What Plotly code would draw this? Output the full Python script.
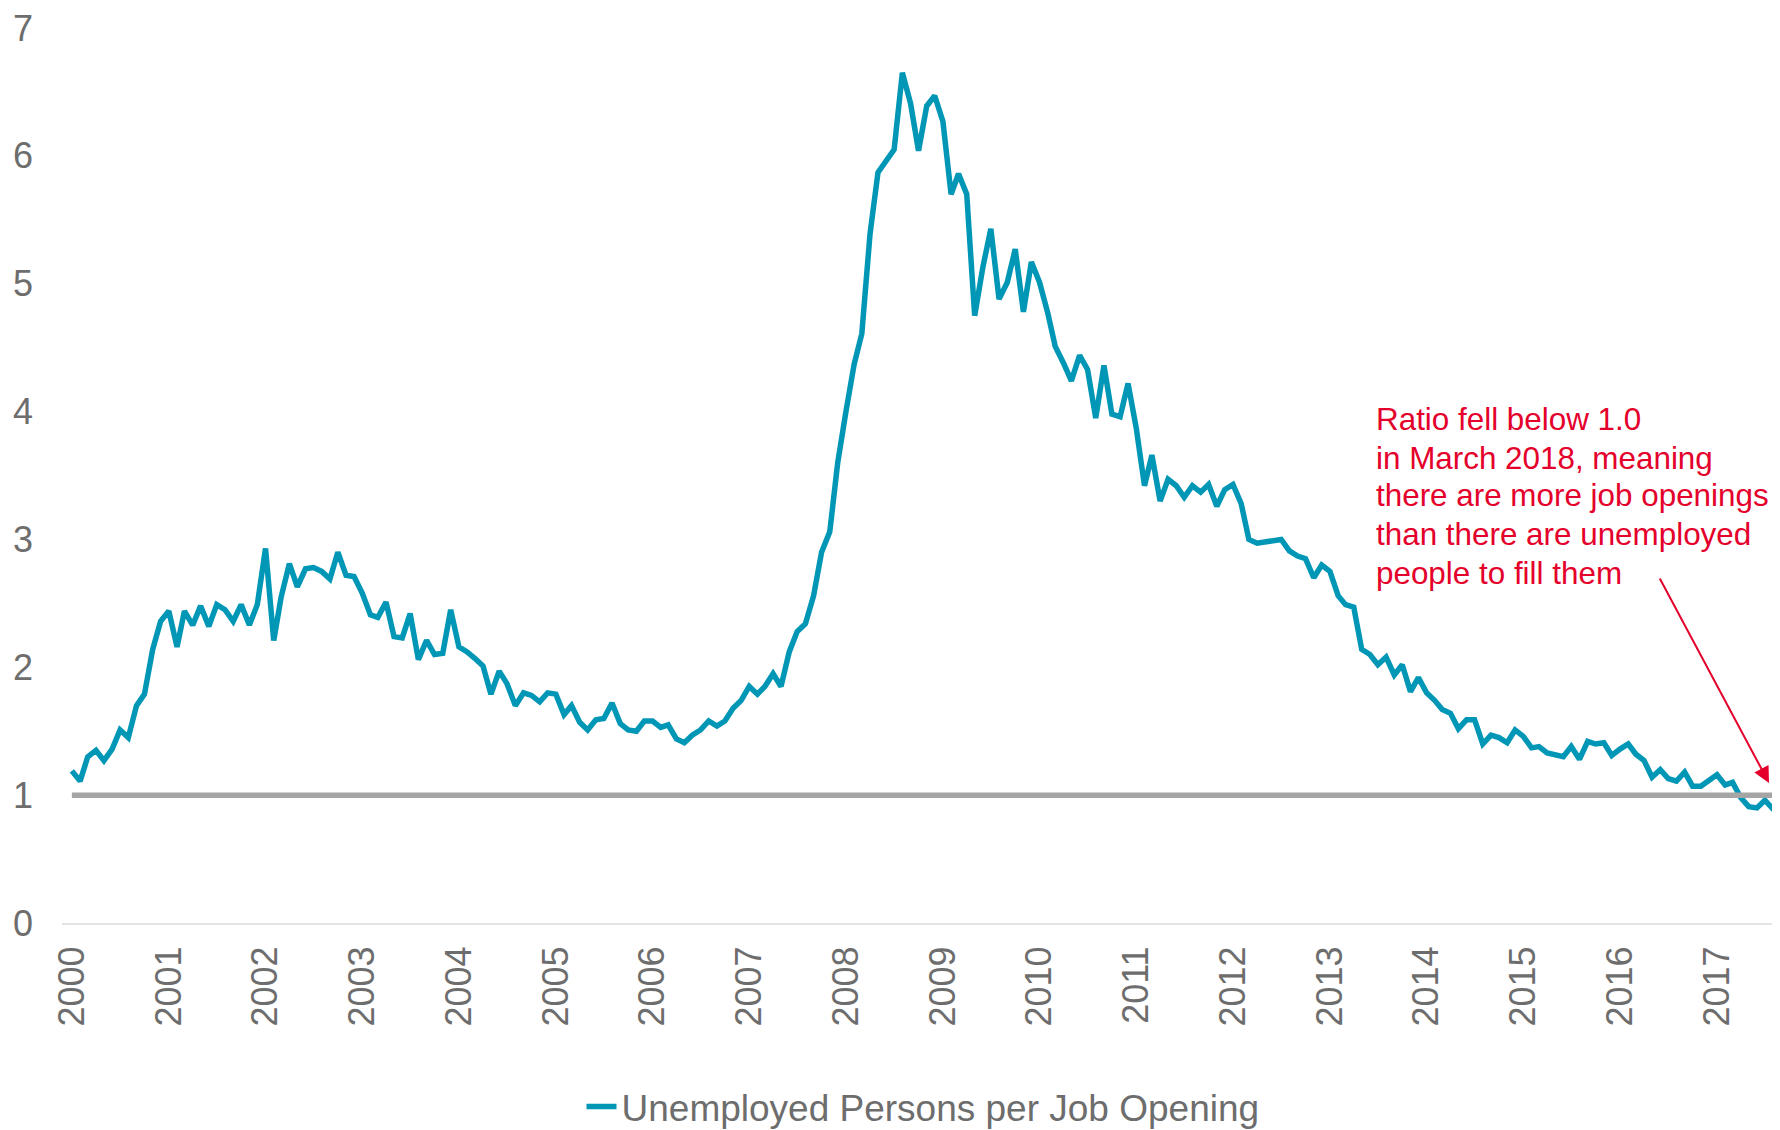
import pandas as pd
import plotly.graph_objects as go

# ---- data ----
start_month = "2000-01-01"
series_name = "Unemployed Persons per Job Opening"
ratio = [
    1.19, 1.11, 1.30, 1.35, 1.27, 1.36, 1.51, 1.45, 1.70, 1.79, 2.14, 2.36,
    2.44, 2.16, 2.44, 2.33, 2.48, 2.32, 2.49, 2.45, 2.36, 2.49, 2.33, 2.49,
    2.93, 2.21, 2.55, 2.81, 2.63, 2.77, 2.78, 2.75, 2.69, 2.90, 2.72, 2.71,
    2.58, 2.41, 2.39, 2.51, 2.24, 2.23, 2.42, 2.06, 2.21, 2.10, 2.11, 2.45,
    2.16, 2.12, 2.07, 2.01, 1.79, 1.97, 1.87, 1.70, 1.80, 1.78, 1.73, 1.80,
    1.79, 1.63, 1.70, 1.57, 1.51, 1.59, 1.60, 1.72, 1.56, 1.51, 1.50, 1.58,
    1.58, 1.53, 1.55, 1.44, 1.41, 1.47, 1.51, 1.58, 1.54, 1.58, 1.68, 1.74,
    1.85, 1.79, 1.85, 1.95, 1.85, 2.12, 2.28, 2.34, 2.56, 2.90, 3.06, 3.60,
    4.00, 4.37, 4.61, 5.39, 5.87, 5.96, 6.05, 6.65, 6.41, 6.04, 6.39, 6.47,
    6.27, 5.70, 5.86, 5.70, 4.75, 5.13, 5.43, 4.88, 5.01, 5.27, 4.78, 5.17,
    5.01, 4.77, 4.51, 4.38, 4.24, 4.44, 4.33, 3.95, 4.36, 3.98, 3.96, 4.22,
    3.87, 3.42, 3.66, 3.30, 3.47, 3.42, 3.33, 3.42, 3.37, 3.43, 3.26, 3.39,
    3.43, 3.28, 3.00, 2.97, 2.98, 2.99, 3.00, 2.91, 2.87, 2.85, 2.70, 2.80,
    2.75, 2.56, 2.49, 2.47, 2.14, 2.10, 2.02, 2.08, 1.94, 2.02, 1.81, 1.92,
    1.80, 1.74, 1.67, 1.64, 1.52, 1.59, 1.59, 1.40, 1.47, 1.45, 1.41, 1.51,
    1.46, 1.37, 1.38, 1.33, 1.32, 1.30, 1.38, 1.28, 1.42, 1.40, 1.41, 1.31,
    1.36, 1.40, 1.32, 1.27, 1.14, 1.20, 1.13, 1.11, 1.18, 1.07, 1.07, 1.11,
    1.16, 1.08, 1.10, 0.98, 0.91, 0.90, 0.96, 0.89, 0.87,
]
threshold = 1.0
year_labels = [str(y) for y in range(2000, 2018)]
y_ticks = [0, 1, 2, 3, 4, 5, 6, 7]
note_lines = [
    "Ratio fell below 1.0",
    "in March 2018, meaning",
    "there are more job openings",
    "than there are unemployed",
    "people to fill them",
]

months = pd.date_range(start_month, periods=len(ratio), freq="MS")
year_ticks = [f"{y}-01-01" for y in year_labels]

FONT = "Liberation Sans, Arial, sans-serif"
GRAY_TXT = "#6D6D6D"
TEAL = "#0096B5"
RED = "#E4002B"

fig = go.Figure()
fig.add_trace(go.Scatter(
    x=months, y=ratio, mode="lines", name=series_name,
    line=dict(color=TEAL, width=5.5), showlegend=True,
))
fig.add_trace(go.Scatter(
    x=months, y=[threshold] * len(months), mode="lines", name="1.0",
    line=dict(color="#A5A5A5", width=5.5), showlegend=False,
))

# the page body adds an 8px margin; target coordinates are in window pixels
OFF = 8
WIN_W, WIN_H = 1780, 1130
W, H = WIN_W - OFF, WIN_H - OFF
left, right, top, bottom = 62 - OFF, 1780 - OFF, 22 - OFF, 923 - OFF

fig.update_layout(
    width=W, height=H,
    margin=dict(l=left, r=W - right, t=top, b=H - bottom),
    paper_bgcolor="white", plot_bgcolor="white",
    font=dict(family=FONT, color=GRAY_TXT),
    legend=dict(
        orientation="h", xref="container", yref="container",
        x=(923 - OFF) / W, xanchor="center", y=1 - (1107 - OFF) / H, yanchor="middle",
        font=dict(size=37, color=GRAY_TXT, family=FONT),
        bgcolor="rgba(0,0,0,0)",
    ),
    xaxis=dict(
        type="date",
        range=["1999-11-24 18:00", "2017-08-27"],
        tickvals=year_ticks, ticktext=year_labels,
        tickangle=-90, tickfont=dict(size=36, color=GRAY_TXT, family=FONT),
        showgrid=False, zeroline=False,
        showline=True, linecolor="#E3E3E3", linewidth=2,
        ticks="", ticklabelstandoff=7,
    ),
    yaxis=dict(
        range=[0, 7], tickvals=y_ticks,
        tickfont=dict(size=36, color=GRAY_TXT, family=FONT),
        showgrid=False, zeroline=False, showline=False, ticks="",
        ticklabelstandoff=28, ticklabeloverflow="allow",
    ),
)

# annotation text lines (window pixel centres)
line_centers = [416, 455, 493, 532, 571]
for txt, yc in zip(note_lines, line_centers):
    fig.add_annotation(
        xref="paper", yref="paper",
        x=(1374 - OFF - left) / (right - left), y=(bottom - (yc - OFF)) / (bottom - top),
        xanchor="left", yanchor="middle", text=txt, showarrow=False,
        font=dict(size=31.4, color=RED, family=FONT), align="left",
    )

# arrow
tip_x, tip_y = 1769 - OFF, 782 - OFF
tail_x, tail_y = 1659 - OFF, 576 - OFF
fig.add_annotation(
    xref="paper", yref="paper",
    x=(tip_x - left) / (right - left), y=(bottom - tip_y) / (bottom - top),
    axref="pixel", ayref="pixel", ax=tail_x - tip_x, ay=tail_y - tip_y,
    text="", showarrow=True, arrowhead=2, arrowsize=1.6, arrowwidth=2,
    arrowcolor=RED, standoff=0,
)

fig.write_html("out.html")
